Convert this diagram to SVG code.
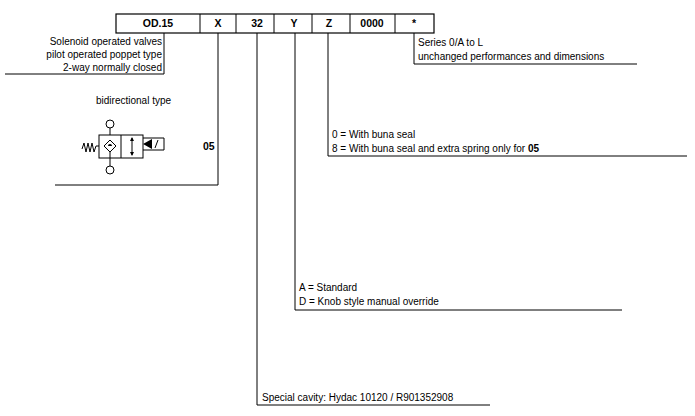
<svg xmlns="http://www.w3.org/2000/svg" width="695" height="416" viewBox="0 0 695 416">
<style>
text{font-family:"Liberation Sans",Arial,sans-serif;font-size:10px;fill:#000}
.b{font-weight:bold;font-size:10.5px}
.l{fill:none;stroke:#000;stroke-width:1}
.box{fill:#fff;stroke:#000;stroke-width:1.2}
</style>
<rect width="695" height="416" fill="#fff"/>
<g id="code">
<rect class="box" x="116" y="14" width="318" height="19"/>
<path class="l" d="M200 14V33M236 14V33M274 14V33M312 14V33M350 14V33M395 14V33"/>
<text class="b" x="158" y="27" text-anchor="middle">OD.15</text>
<text class="b" x="218" y="27" text-anchor="middle">X</text>
<text class="b" x="257" y="27" text-anchor="middle">32</text>
<text class="b" x="294" y="27" text-anchor="middle">Y</text>
<text class="b" x="329" y="27" text-anchor="middle">Z</text>
<text class="b" x="372" y="27" text-anchor="middle">0000</text>
<text class="b" x="414" y="27" text-anchor="middle">*</text>
</g>
<g id="connectors">
<path class="l" d="M164 33V74H5"/>
<path class="l" d="M218 33V185H55"/>
<path class="l" d="M257 33V405H490"/>
<path class="l" d="M295 33V310H622"/>
<path class="l" d="M328 33V156H687"/>
<path class="l" d="M414 33V64H637"/>
</g>
<g id="n-series">
<text x="162" y="45" text-anchor="end">Solenoid operated valves</text>
<text x="162" y="58" text-anchor="end">pilot operated poppet type</text>
<text x="162" y="71" text-anchor="end">2-way normally closed</text>
</g>
<g id="n-star">
<text x="418" y="46">Series 0/A to L</text>
<text x="418" y="60">unchanged performances and dimensions</text>
</g>
<g id="n-x">
<text x="96" y="104">bidirectional type</text>
<text class="b" x="203" y="150">05</text>
<g class="l">
<circle cx="110" cy="124" r="4"/>
<circle cx="110" cy="170" r="4"/>
<path d="M110 128V135M110 158V166"/>
<rect x="99" y="135" width="44" height="23"/>
<path d="M121 135V158"/>
<path d="M143 138H164V150H143"/>
<path d="M82 149L84 143L86 152L88 143L90 152L92 143L94 152L96 146L99 146"/>
<path d="M104 146L110 140L116 146L110 152Z"/>
<path d="M110 152V158"/>
<path d="M132 138V155"/>
<path d="M155 148L158 140"/>
</g>
<path d="M108 146A2 2 0 0 1 112 146Z" fill="#000"/>
<path d="M143 144L152 139V149Z" fill="#000"/>
<path d="M130 141L132 137L134 141ZM130 152L132 156L134 152Z" fill="#000"/>
</g>
<g id="n-z">
<text x="332" y="138">0 = With buna seal</text>
<text x="332" y="152">8 = With buna seal and extra spring only for <tspan font-weight="bold">05</tspan></text>
</g>
<g id="n-y">
<text x="299" y="291">A = Standard</text>
<text x="299" y="305">D = Knob style manual override</text>
</g>
<g id="n-32">
<text x="262" y="401">Special cavity: Hydac 10120 / R901352908</text>
</g>
</svg>
